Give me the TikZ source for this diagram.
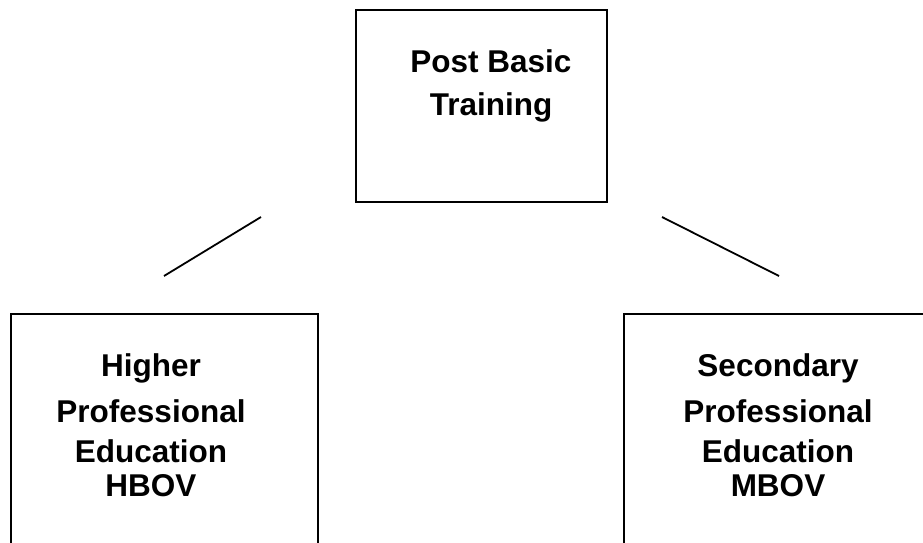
\documentclass[tikz,border=0pt]{standalone}
\usepackage{fontspec}
\setmainfont{Liberation Sans}
\tikzset{
  frame/.style={draw, rectangle, line width=1.8pt, inner sep=0pt},
  boxtext/.style={inner sep=0pt, align=center, anchor=base,
    font=\fontsize{31.5}{40}\selectfont\bfseries},
  link/.style={line width=1.8pt}
}
\begin{document}
\begin{tikzpicture}[x=1pt,y=-1pt]
\useasboundingbox (0,0) rectangle (923,543);
\clip (0,0) rectangle (923,543);
% boxes (the lower two run off the page)
\node[frame, minimum width=251pt, minimum height=192pt] (post) at (481.5,106) {};
\node[frame, minimum width=307pt, minimum height=300pt] (hbov) at (164.5,464) {};
\node[frame, minimum width=376pt, minimum height=300pt] (mbov) at (812,464) {};
% box texts (placed by the baseline of the last line)
\node[boxtext] (posttext) at (491,115) {Post Basic\\[3pt] Training};
\node[boxtext] (hbovtext) at (151,496) {Higher\\[6pt] Professional\\ Education\\[-6pt] HBOV};
\node[boxtext] (mbovtext) at (778,496) {Secondary\\[6pt] Professional\\ Education\\[-6pt] MBOV};
% loose connecting strokes
\coordinate (lefttop) at (261,217);
\coordinate (leftend) at (164,276);
\coordinate (righttop) at (662,217);
\coordinate (rightend) at (779,276);
\draw[link] (lefttop) -- (leftend);
\draw[link] (righttop) -- (rightend);
\end{tikzpicture}
\end{document}
